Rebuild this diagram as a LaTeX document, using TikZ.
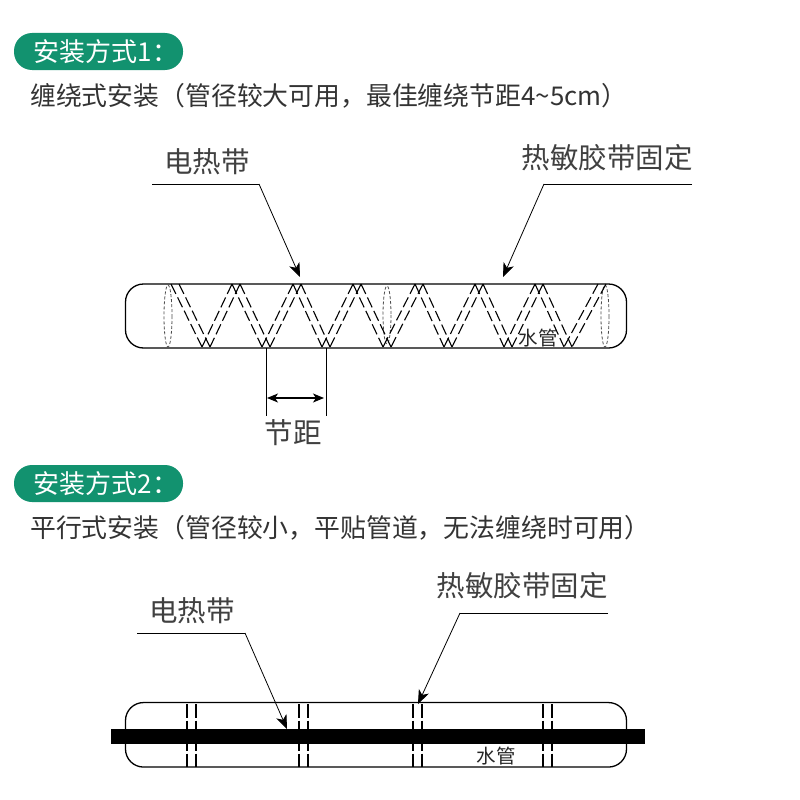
\documentclass[tikz,border=0pt]{standalone}
\usepackage{fontspec}
\setmainfont{Noto Sans CJK SC}
\usepackage{xcolor}
\usetikzlibrary{arrows.meta}
\definecolor{badgegreen}{HTML}{12926F}
\definecolor{inktext}{HTML}{333333}

\begin{document}
\begin{tikzpicture}[x=1pt, y=-1pt,
    badge/.style={fill=badgegreen, rounded corners=18pt, minimum width=169pt, minimum height=37pt,
      inner sep=0pt, text=white, font=\fontsize{26}{30}\selectfont},
    sub/.style={anchor=west, inner sep=0pt, text=inktext, font=\fontsize{25.85}{30}\selectfont},
    lbl/.style={inner sep=0pt, text=black!75, font=\fontsize{28.5}{32}\selectfont},
    small/.style={inner sep=0pt, text=black!85, font=\fontsize{19.5}{22}\selectfont},
    tube/.style={draw, line width=1.3pt, rounded corners=18pt, minimum width=501pt, inner sep=0pt},
    leader/.style={line width=0.8pt},
    arr/.style={-{Stealth[length=14pt, width=11pt, inset=4pt]}, line width=0.8pt},
    strap/.style={line width=1.1pt, dash pattern=on 11pt off 3.9pt},
    sleeve/.style={black!70, line width=0.8pt, densely dashed},
    band/.style={line width=1.1pt, dash pattern=on 13.5pt off 3pt}]
  \useasboundingbox (0,0) rectangle (800,800);
  % === Section 1: wound install ===
  \node[badge] (badgeone) at (98.5,51.5) {\hspace*{15pt}安装方式1：};
  \node[sub] (subone) at (30,96) {缠绕式安装（管径较大可用，最佳缠绕节距4\char`\~5cm）};
  \node[lbl] (heatone) at (207,162) {电热带};
  \node[lbl] (tapeone) at (607,158) {热敏胶带固定};
  \node[tube, minimum height=64pt] (tubeone) at (376,316) {};
  \node[small] (waterone) at (538,338) {水管};
  \draw[sleeve] (168,316) ellipse (4 and 31);
  \draw[sleeve] (387,315) ellipse (4 and 29);
  \draw[sleeve] (605,316) ellipse (4 and 31);
  % === Zigzag legs (top x / bottom x) ===
  \foreach \xa/\xb in {175/206,236/206,236/266,297/266,297/326,357/326,357/387,419/387,
                       419/448,479/448,479/508,539/508,539/568,602/568}{
    \draw[strap] (\xa-4,284) -- (\xb-4,347);
    \draw[strap] (\xa+4,284) -- (\xb+4,347);
  }
  % === Leaders ===
  \coordinate (heatonea) at (152,184);
  \coordinate (heatoneb) at (259,184);
  \coordinate (heatonec) at (300,277);
  \draw[leader] (heatonea) -- (heatoneb);
  \draw[arr] (heatoneb) -- (heatonec);
  \coordinate (tapeonea) at (692,184);
  \coordinate (tapeoneb) at (544,184);
  \coordinate (tapeonec) at (503,277);
  \draw[leader] (tapeonea) -- (tapeoneb);
  \draw[arr] (tapeoneb) -- (tapeonec);
  % === Pitch dimension ===
  \node[lbl] (pitch) at (293,433) {节距};
  \coordinate (dimla) at (266,348);
  \coordinate (dimlb) at (266,416);
  \coordinate (dimra) at (326,348);
  \coordinate (dimrb) at (326,416);
  \coordinate (dimac) at (267,398);
  \coordinate (dimbc) at (324,398);
  \draw[leader] (dimla) -- (dimlb);
  \draw[leader] (dimra) -- (dimrb);
  \draw[{Stealth[length=11pt, width=9pt, inset=3pt]}-{Stealth[length=11pt, width=9pt, inset=3pt]}, line width=1.2pt] (dimac) -- (dimbc);
  % === Section 2: parallel install ===
  \node[badge] (badgetwo) at (98.5,483.5) {\hspace*{15pt}安装方式2：};
  \node[sub] (subtwo) at (30,528) {平行式安装（管径较小，平贴管道，无法缠绕时可用）};
  \node[lbl] (heattwo) at (192,611) {电热带};
  \node[lbl] (tapetwo) at (522,586) {热敏胶带固定};
  \node[tube, minimum height=64.5pt] (tubetwo) at (376,734.8) {};
  \node[small] (watertwo) at (496,756) {水管};
  \foreach \xa in {187,196,299,308,413,422,543,552}{
    \draw[band] (\xa,704) -- (\xa,767);
  }
  \node[fill=black, minimum width=534pt, minimum height=15pt, inner sep=0pt] (bartwo) at (378,736.5) {};
  % === Leaders ===
  \coordinate (heattwoa) at (137,633);
  \coordinate (heattwob) at (245,633);
  \coordinate (heattwoc) at (287,729);
  \draw[leader] (heattwoa) -- (heattwob);
  \draw[arr] (heattwob) -- (heattwoc);
  \coordinate (tapetwoa) at (608,613);
  \coordinate (tapetwob) at (460,613);
  \coordinate (tapetwoc) at (418,704);
  \draw[leader] (tapetwoa) -- (tapetwob);
  \draw[arr] (tapetwob) -- (tapetwoc);
\end{tikzpicture}
\end{document}
